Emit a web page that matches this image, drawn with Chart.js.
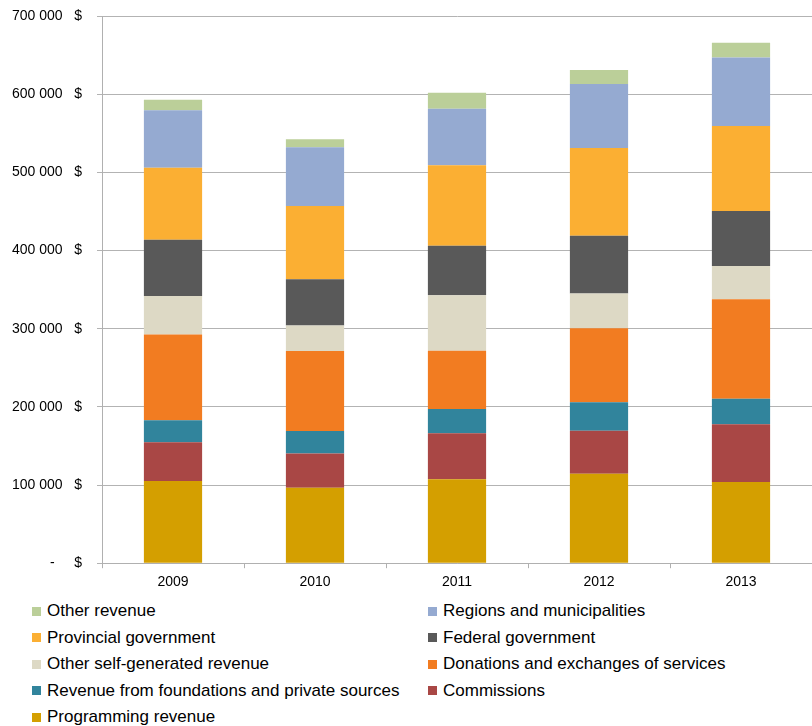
<!DOCTYPE html>
<html>
<head>
<meta charset="utf-8">
<script src="https://cdn.jsdelivr.net/npm/chart.js@4.4.1/dist/chart.umd.min.js"></script>
<style>
  html, body { margin: 0; padding: 0; background: #fff; }
  #wrap { position: relative; width: 812px; height: 726px; }
  #chart { position: absolute; left: 0; top: 0; }
  #legend {
    position: absolute; left: 32px; top: 598px;
    display: grid; grid-template-columns: 396px auto;
    font-family: "Liberation Sans", Arial, sans-serif; font-size: 17px; color: #000;
  }
  .item { display: flex; align-items: center; height: 26.5px; white-space: nowrap; }
  .box { width: 9px; height: 9px; margin-right: 6px; flex: none; }
</style>
</head>
<body>
<div id="wrap">
  <canvas id="chart" width="812" height="597"></canvas>
  <div id="legend"></div>
</div>
<script>
// Revenue by source, 2009-2013 (stacked from the bottom up)
const years = ['2009', '2010', '2011', '2012', '2013'];

const programmingRevenue = [105300, 96400, 107500, 114300, 104000];
const commissions = [49400, 43800, 58700, 55200, 73700];
const foundationsPrivate = [28100, 29000, 31000, 36300, 32700];
const donationsExchanges = [109800, 102100, 74500, 94800, 127300];
const otherSelfGenerated = [49300, 32800, 71100, 44300, 42500];
const federalGovernment = [72000, 59100, 63400, 74100, 70200];
const provincialGovernment = [91900, 93600, 102900, 112300, 109000];
const regionsMunicipalities = [73500, 75300, 72400, 81700, 87600];
const otherRevenue = [13700, 10200, 20400, 17900, 18800];

const yTicks = [0, 100000, 200000, 300000, 400000, 500000, 600000, 700000];

const series = [
  { label: 'Programming revenue', data: programmingRevenue, color: '#D49F00' },
  { label: 'Commissions', data: commissions, color: '#A94745' },
  { label: 'Revenue from foundations and private sources', data: foundationsPrivate, color: '#31849C' },
  { label: 'Donations and exchanges of services', data: donationsExchanges, color: '#F27C21' },
  { label: 'Other self-generated revenue', data: otherSelfGenerated, color: '#DDD9C5' },
  { label: 'Federal government', data: federalGovernment, color: '#595959' },
  { label: 'Provincial government', data: provincialGovernment, color: '#FBAF33' },
  { label: 'Regions and municipalities', data: regionsMunicipalities, color: '#95AAD1' },
  { label: 'Other revenue', data: otherRevenue, color: '#BBCF99' },
];

const fmt = (v) => {
  if (v === 0) return '-     $';
  return String(v).replace(/\B(?=(\d{3})+(?!\d))/g, ' ') + '   $';
};

const chart = new Chart(document.getElementById('chart'), {
  type: 'bar',
  data: {
    labels: years,
    datasets: series.map((s) => ({
      label: s.label,
      data: s.data,
      backgroundColor: s.color,
      borderWidth: 0,
      categoryPercentage: 1,
      barPercentage: 0.41,
    })),
  },
  options: {
    responsive: false,
    animation: false,
    layout: { padding: { top: 16, right: 0, left: 0, bottom: 0 } },
    plugins: { legend: { display: false }, tooltip: { enabled: false } },
    scales: {
      x: {
        stacked: true,
        grid: { drawOnChartArea: false, drawTicks: true, tickLength: 5, color: '#B0B0B0' },
        border: { color: '#B0B0B0', width: 1 },
        ticks: { color: '#000', padding: 6, font: { family: 'Liberation Sans', size: 14 } },
      },
      y: {
        stacked: true,
        min: 0,
        max: 700000,
        afterBuildTicks: (scale) => { scale.ticks = yTicks.map((v) => ({ value: v })); },
        afterFit: (scale) => {
          // fixed axis width, and don't let the label padding push the plot down
          scale.width = 102;
          scale.paddingTop = 0;
        },
        grid: { color: '#B3B3B3', tickLength: 5 },
        border: { color: '#B0B0B0', width: 1 },
        ticks: {
          color: '#000',
          padding: 15,
          font: { family: 'Liberation Sans', size: 14 },
          callback: (v) => fmt(v),
        },
      },
    },
  },
});

// Legend in two columns, same order as the source (top of stack first)
const legend = document.getElementById('legend');
chart.data.datasets.slice().reverse().forEach((ds) => {
  const item = document.createElement('div');
  item.className = 'item';
  item.innerHTML = `<span class="box" style="background:${ds.backgroundColor}"></span>${ds.label}`;
  legend.appendChild(item);
});
</script>
</body>
</html>
